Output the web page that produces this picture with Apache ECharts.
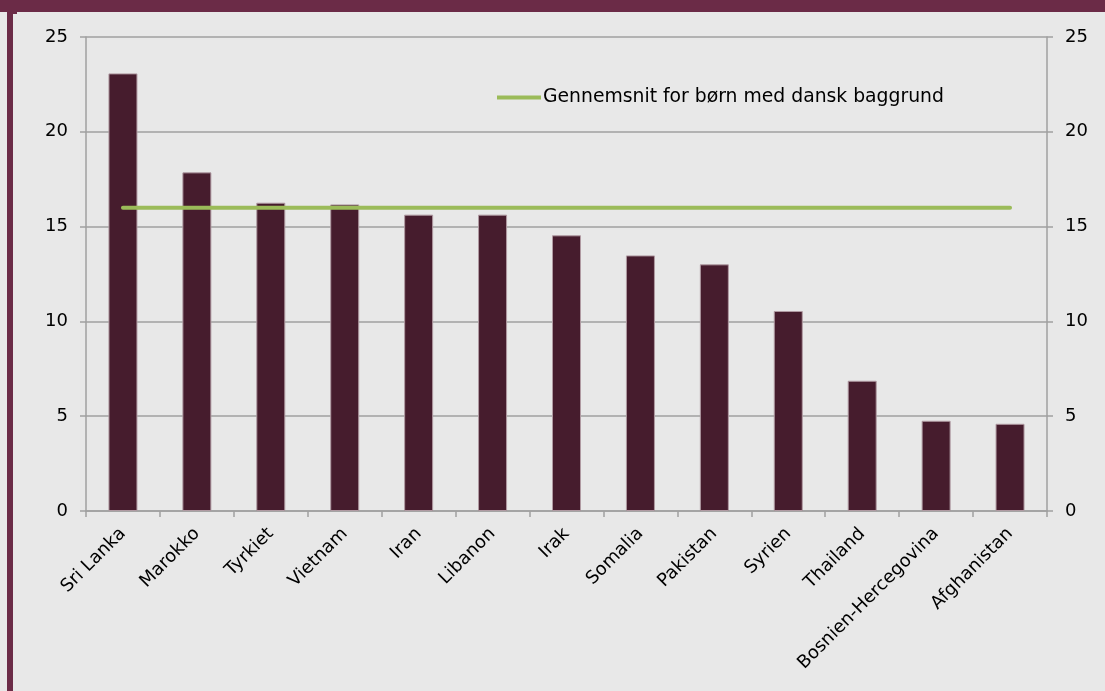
<!DOCTYPE html>
<html>
<head>
<meta charset="utf-8">
<script src="https://cdn.jsdelivr.net/npm/echarts@6/dist/echarts.min.js"></script>
<style>
html,body{margin:0;padding:0;background:#e8e8e8;}
#c{width:1105px;height:691px;}
</style>
</head>
<body>
<div id="c"></div>
<script>
var categories = ["Sri Lanka","Marokko","Tyrkiet","Vietnam","Iran","Libanon","Irak","Somalia","Pakistan","Syrien","Thailand","Bosnien-Hercegovina","Afghanistan"];
var barValues = [23.08, 17.86, 16.26, 16.17, 15.63, 15.63, 14.54, 13.48, 13.01, 10.55, 6.87, 4.76, 4.6];
var avgValues = [16,16,16,16,16,16,16,16,16,16,16,16,16];
var avgName = "Gennemsnit for børn med dansk baggrund";
var yTicks = {min:0, max:25, interval:5};

var font = "DejaVu Sans";
var fs = 18;
var axisGray = "#a0a0a0";
var chart = echarts.init(document.getElementById('c'));
chart.setOption({
  backgroundColor: '#e8e8e8',
  animation: false,
  textStyle: {fontFamily: font},
  graphic: [
    {type:'rect', shape:{x:0,y:0,width:1105,height:12}, style:{fill:'#6b2b47'}, z:100},
    {type:'rect', shape:{x:7,y:12,width:6,height:679}, style:{fill:'#6b2b47'}, z:100},
    {type:'rect', shape:{x:7,y:12,width:10,height:2}, style:{fill:'#6b2b47'}, z:100}
  ],
  legend: {
    left: 497, top: 88, padding: 0,
    icon: 'rect', itemWidth: 44, itemHeight: 4, itemGap: 0,
    textStyle: {fontFamily: font, fontSize: 18.8, color: '#000', padding:[0,0,0,-3]},
    data: [avgName]
  },
  grid: {left: 86, right: 58, top: 37, bottom: 180, containLabel: false},
  xAxis: {
    type: 'category', data: categories, boundaryGap: true,
    axisLine: {lineStyle: {color: axisGray, width: 1.5}},
    axisTick: {show: true, length: 6, lineStyle: {color: axisGray, width: 1.5}, alignWithLabel: false},
    axisLabel: {rotate: 45, interval: 0, fontFamily: font, fontSize: fs, color: '#000', margin: 20}
  },
  yAxis: [
    {type:'value', min:yTicks.min, max:yTicks.max, interval:yTicks.interval, position:'left',
     axisLine:{show:true, lineStyle:{color:axisGray, width:1.5}},
     axisTick:{show:true, length:6, lineStyle:{color:axisGray, width:1.5}},
     splitLine:{show:true, lineStyle:{color:axisGray, width:1.5}},
     axisLabel:{fontFamily:font, fontSize:fs, color:'#000', margin:18}},
    {type:'value', min:yTicks.min, max:yTicks.max, interval:yTicks.interval, position:'right',
     axisLine:{show:true, lineStyle:{color:axisGray, width:1.5}},
     axisTick:{show:true, length:6, lineStyle:{color:axisGray, width:1.5}},
     splitLine:{show:false},
     axisLabel:{fontFamily:font, fontSize:fs, color:'#000', margin:18}}
  ],
  series: [
    {type:'bar', name:'Andel', data: barValues, yAxisIndex:0, barWidth: 29,
     itemStyle:{color:'#461c2d', borderColor:'#b09aa2', borderWidth:1}},
    {type:'line', name: avgName, data: avgValues, yAxisIndex:0, symbol:'none',
     lineStyle:{color:'#9bbb59', width:4, cap:'round'}, itemStyle:{color:'#9bbb59'}, z:5}
  ]
});
</script>
</body>
</html>
